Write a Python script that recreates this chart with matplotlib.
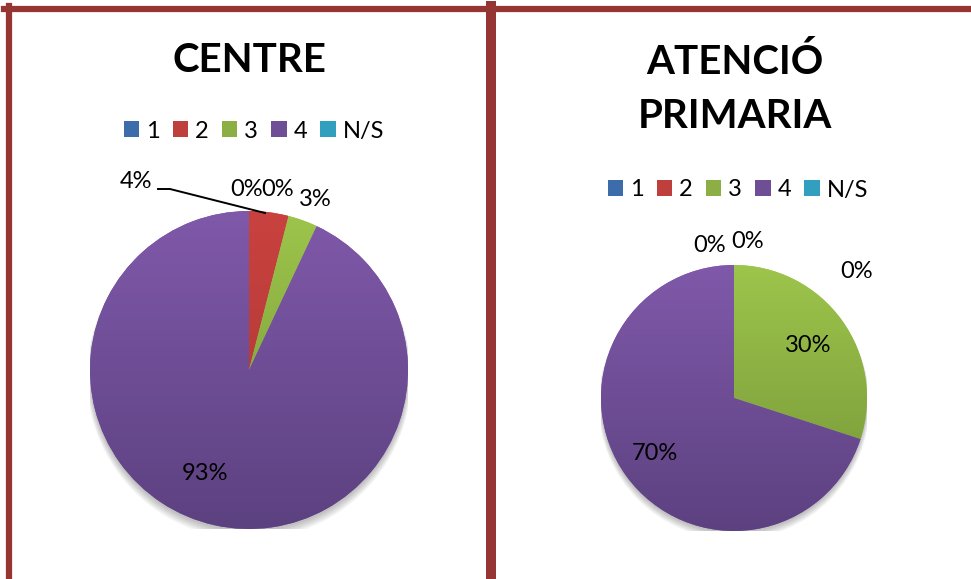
import matplotlib
matplotlib.use("Agg")
import matplotlib.pyplot as plt
import numpy as np
from matplotlib.lines import Line2D
from matplotlib.patches import Patch, Circle
from matplotlib.colors import LinearSegmentedColormap, to_rgb

# --- Дані ---
categories = ["1", "2", "3", "4", "N/S"]
centre_values = [0, 4, 3, 93, 0]
primaria_values = [0, 0, 30, 70, 0]
titles = ["CENTRE", "ATENCIÓ\nPRIMARIA"]

# кольори Excel (верх світліший, низ темніший)
top_colors = ["#4F81BD", "#C9423F", "#9DC54B", "#8059AA", "#38B3D3"]
bottom_colors = ["#2F5F95", "#A83532", "#739237", "#5C4180", "#27879F"]
legend_colors = ["#3C6DAA", "#BE3F3C", "#8BAE45", "#6E4F96", "#31A0BE"]

W, H = 971, 579
fig = plt.figure(figsize=(W / 100, H / 100), dpi=100)
plt.rcParams["font.family"] = ["Lato", "DejaVu Sans"]

border = "#963634"


def px(x, y):
    # піксель -> координати фігури
    return x / W, 1 - y / H


def draw_pie(cx, cy, r, values, label_pos):
    ax = fig.add_axes([(cx - r) / W, (H - cy - r) / H, 2 * r / W, 2 * r / H])
    ax.set_xlim(-1, 1)
    ax.set_ylim(-1, 1)
    ax.axis("off")

    # легка тінь під кругом
    for k in range(6):
        ax.add_patch(Circle((0, -0.015 - 0.006 * k), 1.0 + 0.004 * k,
                            color="black", alpha=0.045, lw=0, zorder=0))

    wedges, _ = ax.pie(values, radius=1, startangle=90, counterclock=False,
                       colors=top_colors, wedgeprops=dict(lw=0))
    grad = np.linspace(1, 0, 256).reshape(-1, 1)
    for w, c1, c2 in zip(wedges, top_colors, bottom_colors):
        cmap = LinearSegmentedColormap.from_list("g", [to_rgb(c2), to_rgb(c1)])
        im = ax.imshow(grad, cmap=cmap, extent=[-1, 1, -1, 1], aspect="auto",
                       zorder=2, vmin=0, vmax=1)
        im.set_clip_path(w)
    ax.set_xlim(-1, 1)
    ax.set_ylim(-1, 1)

    for v, (lx, ly) in zip(values, label_pos):
        ax.text((lx - cx) / r, (cy - ly) / r, f"{v}%", ha="center", va="center",
                fontsize=17, color="black", zorder=5, clip_on=False)
    return ax


# --- Перша панель ---
ax1 = draw_pie(249, 370, 159, centre_values,
               [(247, 190), (136, 182), (315, 199), (205, 474), (278, 190)])
# виносна лінія для 4%
ax1.plot([(158 - 249) / 159, (170 - 249) / 159, (265 - 249) / 159],
         [(370 - 189) / 159, (370 - 189) / 159, (370 - 213) / 159],
         color="black", lw=1.4, zorder=6, clip_on=False)

# --- Друга панель ---
draw_pie(734, 398, 133, primaria_values,
         [(710, 245), (748, 242), (808, 345), (655, 454), (857, 272)])

# --- Заголовки ---
fig.text(*px(249, 61), titles[0], ha="center", va="center",
         fontsize=29, fontweight="bold")
fig.text(*px(735, 89), titles[1], ha="center", va="center",
         fontsize=29, fontweight="bold", linespacing=1.55)

# --- Легенди ---
handles = [Patch(facecolor=c, edgecolor="none") for c in legend_colors]
for x, y in [(254, 131), (738, 190)]:
    fig.legend(handles, categories, loc="center", bbox_to_anchor=px(x, y),
               ncol=5, frameon=False, fontsize=17, handlelength=0.65,
               handleheight=0.65, handletextpad=0.3, columnspacing=0.55)

# --- Рамки ---
fig.add_artist(Line2D([4 / W, 1], [1 - 9 / H] * 2, color=border, lw=4.5))
fig.add_artist(Line2D([9 / W] * 2, [0, 1 - 6 / H], color=border, lw=4.5))
fig.add_artist(Line2D([491 / W] * 2, [0, 1 - 6 / H], color=border, lw=7.2))

fig.savefig("out.png", dpi=100)
